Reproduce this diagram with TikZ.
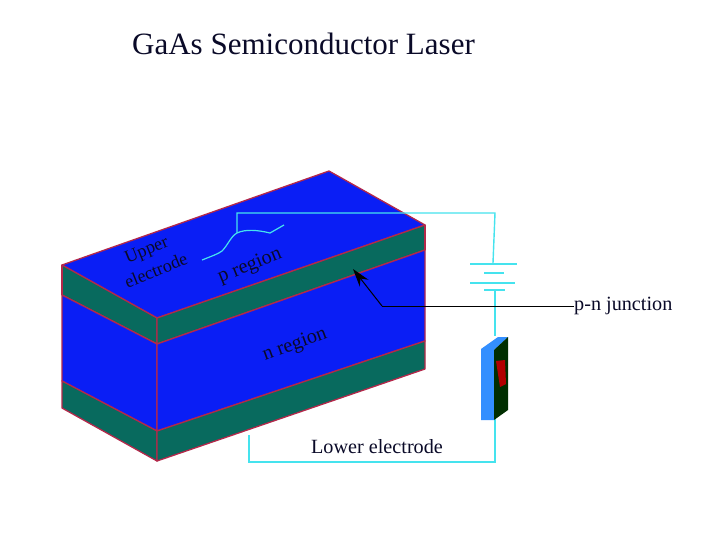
\documentclass[tikz,border=0pt]{standalone}
\usepackage{fontspec}
\setmainfont{Liberation Serif}
\usetikzlibrary{arrows.meta}
\definecolor{topblue}{HTML}{0A1EF5}
\definecolor{slab}{HTML}{086A5E}
\definecolor{edgered}{HTML}{B4284A}
\definecolor{wire}{HTML}{45E3EE}
\definecolor{inktext}{HTML}{0A0A28}
\tikzset{
  facea/.style={fill=topblue,draw=edgered,line width=1.3pt,line join=round},
  faceb/.style={fill=slab,draw=edgered,line width=1.3pt,line join=round},
  wireline/.style={draw=wire,line width=1.4pt},
  plate/.style={draw=wire,line width=1.2pt},
  lbl/.style={inner sep=0pt,text=inktext,font=\fontsize{20.2}{20.2}\selectfont},
  lead/.style={draw=black,line width=1pt},
}
\begin{document}
\begin{tikzpicture}[x=1pt,y=-1pt]
\useasboundingbox (0,0) rectangle (720,540);
\fill[white] (0,0) rectangle (720,540);
% coordinates of the block
\coordinate (lt) at (62,265);
\coordinate (lg) at (62,295);
\coordinate (ln) at (62,381);
\coordinate (lb) at (62,408);
\coordinate (ft) at (157,318);
\coordinate (fg) at (157,344);
\coordinate (fn) at (157,431);
\coordinate (fb) at (157,461);
\coordinate (rt) at (425,225);
\coordinate (rg) at (425,250);
\coordinate (rn) at (425,341);
\coordinate (rb) at (425,369);
\coordinate (bk) at (329,171);
% wires behind block
\coordinate (w1) at (249,435);
\coordinate (w2) at (249,462);
\coordinate (w3) at (495,462);
\draw[wireline] (w1) -- (w2) -- (w3) -- (495,415);
% block
\draw[facea] (lt) -- (bk) -- (rt) -- (ft) -- cycle;
\draw[faceb] (lt) -- (ft) -- (fg) -- (lg) -- cycle;
\draw[faceb] (ft) -- (rt) -- (rg) -- (fg) -- cycle;
\draw[facea] (lg) -- (fg) -- (fn) -- (ln) -- cycle;
\draw[facea] (fg) -- (rg) -- (rn) -- (fn) -- cycle;
\draw[faceb] (ln) -- (fn) -- (fb) -- (lb) -- cycle;
\draw[faceb] (fn) -- (rn) -- (rb) -- (fb) -- cycle;
\draw[edgered,line width=1.8pt] (rt) -- (rg) (lt) -- (lg);
% upper wire and battery
\coordinate (c1) at (237,213);
\coordinate (c2) at (495,213);
\coordinate (c3) at (493,263);
\coordinate (c4) at (237,233);
\draw[wireline] (c4) -- (c1) -- (c2) -- (c3);
\draw[wire,line width=1.2pt] (202,260) .. controls (212,256) and (218,254) .. (222,251) .. controls (228,245) and (231,236) .. (237,233) .. controls (245,229) and (258,230) .. (270,233) -- (284,225);
\draw[draw=wire,line width=1.8pt] (470,264) -- (517,264);
\draw[plate] (484,273) -- (504,273);
\draw[plate] (470,283) -- (515,283);
\draw[plate] (484,290) -- (505,290);
\draw[wireline] (495,290) -- (495,336);
% device
\fill[blue!55!cyan!80!white] (481,349) -- (498,337) -- (508,337) -- (494,350) -- (494,420) -- (481,420) -- cycle;
\fill[black!70!green!60!black] (494,350) -- (508,337) -- (508,410) -- (494,420) -- cycle;
\fill[red!70!black] (496,361) -- (505,360) -- (506,384) -- (500,387) -- cycle;
% junction leader
\node[lbl,anchor=west] (pn) at (574,306) {p-n junction};
\coordinate (elbow) at (382,306);
\coordinate (tip) at (353,269);
\draw[lead] (pn.west) -- (elbow);
\draw[lead,-{Stealth[length=18pt,width=11pt]}] (elbow) -- (tip);
% labels
\node[lbl,font=\fontsize{31}{31}\selectfont,anchor=west] (title) at (132,44) {GaAs Semiconductor Laser};
\node[lbl,rotate=22,font=\fontsize{18}{18}\selectfont] (ua) at (147,251) {Upper};
\node[lbl,rotate=22,font=\fontsize{18}{18}\selectfont] (ub) at (156,270) {electrode};
\node[lbl,rotate=22] (pr) at (250,266) {p region};
\node[lbl,rotate=20] (nr) at (295,345) {n region};
\node[lbl] (le) at (377,447) {Lower electrode};
\end{tikzpicture}
\end{document}
